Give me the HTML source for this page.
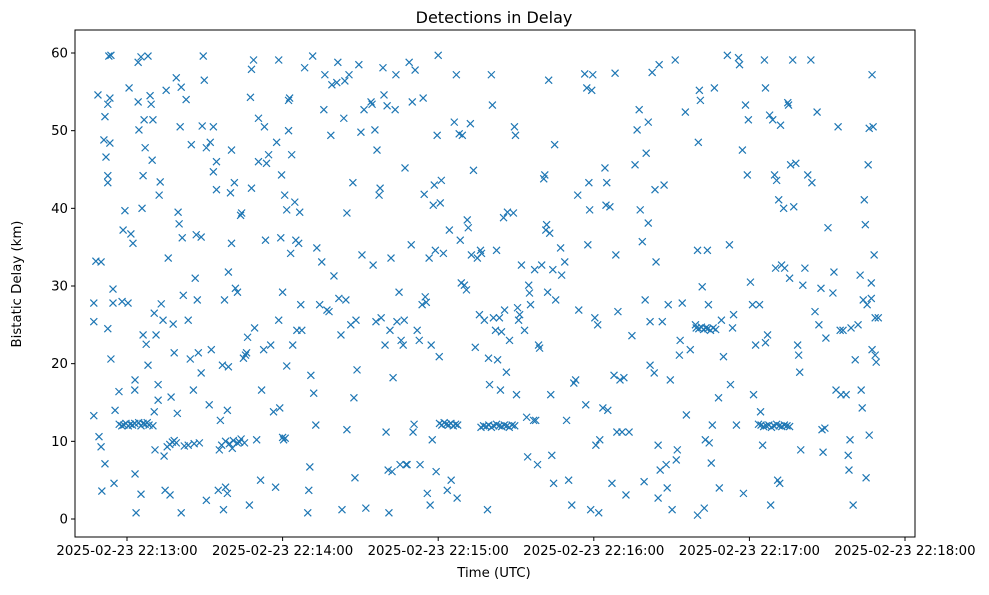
<!DOCTYPE html>
<html><head><meta charset="utf-8"><style>
body{margin:0;background:#fff;}
svg text{font-family:"DejaVu Sans","Liberation Sans",sans-serif;fill:#000;}
</style></head><body>
<svg id="chart" width="989" height="590" xmlns="http://www.w3.org/2000/svg">
<rect width="989" height="590" fill="#fff"/>
<text x="494" y="23" text-anchor="middle" font-size="16">Detections in Delay</text>
<text x="494" y="577" text-anchor="middle" font-size="13.3">Time (UTC)</text>
<text transform="translate(21,284) rotate(-90)" text-anchor="middle" font-size="13.3">Bistatic Delay (km)</text>
<g id="marks"></g>
<g id="axes"></g>
</svg>
<script>
// seconds relative to 22:13:00 UTC, delay in km
const xTickSeconds = [0, 60, 120, 180, 240, 300];
const xTickLabels = ["2025-02-23 22:13:00","2025-02-23 22:14:00","2025-02-23 22:15:00","2025-02-23 22:16:00","2025-02-23 22:17:00","2025-02-23 22:18:00"];
const yTicks = [0, 10, 20, 30, 40, 50, 60];
const detections = [
[-12.8,27.8],[-12.8,25.4],[-12.8,13.3],[-12,33.2],[-11.2,54.6],[-10,33.1],[-10.8,10.6],[-10,9.3],[-9.7,3.6],[-8.5,7.1],[-8.9,48.8],[-8.5,51.8],[-8.1,46.6],[-7.4,43.3],[-7.4,53.4],[-7.4,44.2],[-7,59.6],[-6.2,59.7],[-6.6,54.2],[-6.6,48.4],[-7.4,24.5],[-6.2,20.6],[-5.4,29.6],[-5.4,27.8],[-5,4.6],[-4.6,14],[-3.1,16.4],[-1.9,28],[-1.5,37.2],[-0.8,39.7],[0.4,27.8],[0.8,55.5],
[-3,12.2],[-2,12.0],[-1.2,12.1],[-0.4,12.3],[0.5,12.0],[1.3,12.2],[2.1,12.1],[3,12.3],[4.5,12.4],[5.4,12.0],[6.2,12.3],[7,12.2],[7.8,12.4],[8.5,12.1],
[1.5,36.7],[2.3,35.5],[3.1,17.9],[3,16.6],[3.5,0.8],[3.1,5.8],[4.3,58.8],[4.6,50.1],[4.3,53.7],[5.4,3.2],[5.4,59.5],[5.8,40],[6.2,44.2],[6.2,23.7],[6.6,51.4],[7,47.8],[7.4,22.5],[8.1,59.6],[8.1,19.8],[8.9,54.5],[9.3,53.4],[9.7,46.2],[10,51.4],[10.5,26.5],[10.8,8.9],[11.2,23.7],[12,17.3],[12.4,41.7],[12.8,43.4],[13.2,27.7],[13.9,25.6],[14.3,8.1],[14.7,3.7],[15.1,55.2],[15.9,33.6],[10.5,13.8],[10,12],[12,15.3],
[15.5,9.3],[16.5,9.6],[17.5,9.9],[18.2,10.1],[19,9.8],
[16.6,3.1],[17,15.7],[17.8,25.1],[18.2,21.4],[19,56.8],[19.4,13.6],[19.7,39.5],[20.1,38],[20.5,50.5],[20.9,55.6],[21.3,36.2],[21.7,28.8],[22.1,9.4],[20.9,0.8],[22.8,54],[23.6,9.5],[23.6,25.6],[24.4,20.6],[24.8,48.2],[25.6,16.6],[25.9,9.7],[26.3,31],[26.7,36.6],[27.1,28.2],[27.5,21.4],[27.9,9.8],[28.6,18.8],[28.6,36.3],[29,50.6],[29.4,59.6],[29.8,56.5],[30.6,47.8],[30.6,2.4],
[31.7,14.7],[32.1,48.5],[32.5,21.8],[33.3,50.5],[33.3,44.7],[34.5,46],[34.5,42.4],[35.2,3.7],[35.6,8.9],[36,12.7],[36.8,19.8],[37.2,1.2],[37.6,28.2],[38,4.1],[38.7,3.3],[38.7,14],[39.1,31.8],[39.1,19.6],[39.9,42],[40.3,47.5],[40.3,35.5],[40.6,9.1],[41.4,43.3],[41.8,29.7],[42.6,29.2],[43.4,9.9],[43.8,39.1],[44.2,39.4],[44.9,20.7],[45.3,9.8],[45.7,21.1],[46.1,21.4],[46.5,23.4],
[36.5,9.5],[38,10],[39.5,9.7],[41,10.1],[42.5,9.8],[44,10.3],[60,10.5],[61,10.4],
[47.2,1.8],[47.6,54.3],[48,57.9],[48,42.6],[48.8,59.1],[49.2,24.6],[50,10.2],[50.7,51.6],[50.7,46],[51.5,5],[51.9,16.6],[52.7,21.8],[53,50.5],[53.4,35.9],[53.8,45.8],[54.6,46.9],[55.4,22.4],[56.5,13.8],[57.3,4.1],[57.7,48.5],[58.5,59.1],[58.5,25.6],[58.9,14.3],[59.3,36.2],[59.6,44.3],[60,29.2],[60.4,10.2],[60.8,41.7],[61.6,39.8],[61.6,19.7],[62.3,53.9],
[62.3,50],[62.7,54.2],[63.1,34.2],[63.5,46.9],[63.9,22.4],[64.7,40.8],[65.1,35.9],[65.5,24.3],[66.2,35.5],[66.6,39.5],[67,27.6],[67.4,24.3],[68.5,58.1],[69.7,0.8],[70.1,3.7],[70.5,6.7],[70.9,18.5],[71.6,59.6],[72,16.2],[72.8,12.1],[73.2,34.9],[74.3,27.6],[75.1,33.1],[75.9,52.7],[76.3,57.2],[77.1,26.9],[77.9,26.7],
[78.6,49.4],[79,55.9],[79.8,31.3],[80.9,56.2],[81.3,58.8],[81.7,28.4],[82.5,23.7],[82.9,1.2],[83.6,51.6],[84,56.4],[84.4,28.2],[84.8,39.4],[84.8,11.5],[85.6,57.2],[86.3,25],[87.1,43.3],[87.5,15.6],[87.9,5.3],[88.3,25.6],[88.7,19.2],[89.4,58.5],[90.2,49.8],[90.6,34],[91.4,52.7],[92.1,1.4],
[94.1,53.7],[94.5,53.4],[94.9,32.7],[95.6,50.1],[96,25.4],[96.4,47.5],[97.2,41.7],[97.6,42.6],[98,25.9],[98.7,58.1],[99.1,54.6],[99.5,22.4],[99.9,11.2],[100.3,53.2],[100.7,6.3],[101,0.8],[101.4,24.3],[101.8,33.6],[102.2,6.1],[102.6,18.2],[103.4,52.7],[103.7,57.2],[104.1,25.4],[104.9,29.2],[105.3,7],[105.7,23],[106.5,22.4],[106.9,25.6],[107.2,45.2],[107.6,7],[108,7],
[108.8,58.8],[109.6,35.3],[110,53.7],[110.3,11.2],[110.7,12.2],[111.1,57.8],[111.9,24.3],[112.7,23],[113,7],[113.8,27.6],[114.2,54.2],[114.6,41.8],[115,28.6],[115.4,27.9],[115.8,3.3],[116.5,33.6],[116.9,1.8],[117.3,22.4],[117.7,10.2],[118.1,40.4],[118.5,43],[118.9,34.6],[119.2,6.1],[119.6,49.4],[120,59.7],[120.4,20.9],[120.8,40.7],[121.2,43.6],[122,34.2],[123.5,3.7],[124.3,37.2],[125,5],[126.2,51.1],[127,57.2],[127.3,2.7],
[120.5,12.3],[121.4,12.1],[122.3,12.4],[123.1,12.2],[124,12.1],[124.9,12.3],[125.8,12],[126.7,12.2],[127.5,12.1],
[128.1,49.6],[128.5,35.9],[128.9,30.4],[129.3,49.4],[130.1,30.1],[130.9,29.5],[131.2,38.5],[131.6,37.5],[132.4,50.9],[132.8,34],[133.6,44.9],[134.3,22.1],[135.1,33.6],[135.9,26.3],[136.3,34.6],[136.7,34.2],[137.8,25.6],[139,1.2],[139.4,20.7],[139.8,17.3],[140.5,57.2],[140.9,53.3],[141.3,25.9],[142.1,24.3],[142.5,34.6],[142.9,20.5],
[136.5,11.8],[137.5,12.0],[138.5,11.9],[139.5,12.1],[140.5,11.8],[141.4,12],[142.5,12.2],[143.5,12],[144.5,11.9],[145.5,12.1],[146.5,12],[147.4,11.8],[148.5,12.1],[149.5,12],
[143.6,25.9],[144,16.6],[144.4,24.1],[145.2,38.8],[145.6,26.9],[146.3,18.9],[146.7,39.5],[147.5,23],[149,39.4],[149.4,50.5],[149.8,49.4],[150.2,16],[150.6,27.2],[151,25.6],[151.4,26.3],[152.1,32.7],[153.3,24.3],[154.1,13.1],[154.5,8],[154.9,30.1],[155.2,29.1],[155.6,27.6],[156.8,12.7],[157.2,32.1],[157.6,12.7],[158.3,7],[158.7,22.4],
[159.1,22],[159.9,32.7],[160.7,43.8],[161.1,44.3],[161.5,37.2],[161.8,37.9],[162.2,29.2],[162.6,56.5],[163,36.8],[163.4,16],[163.8,8.2],[164.2,32.1],[164.5,4.6],[164.9,48.2],[165.3,28.2],[167.2,34.9],[167.6,31.4],[168.8,33.1],[169.5,12.7],[170.3,5],[171.5,1.8],[172.3,17.5],[173,17.9],[173.8,41.7],[174.2,26.9],
[176.5,57.3],[176.9,14.7],[177.3,55.5],[177.7,35.3],[178.1,43.3],[178.4,39.8],[178.8,1.2],[179.2,55.2],[179.6,57.2],[180.4,25.9],[180.8,9.5],[181.5,25],[181.9,0.8],[182.3,10.2],[183.5,14.3],[184.3,45.2],[184.7,40.4],[185,43.3],[185.4,14],[186.2,40.2],[187,4.6],[187.8,18.5],[188.2,57.4],[188.5,34],[188.9,11.2],[189.3,26.7],[190.1,17.9],
[190.9,11.2],[191.6,18.2],[192.4,3.1],[193.6,11.2],[194.7,23.6],[195.9,45.6],[196.7,50.1],[197.5,52.7],[197.9,39.8],[198.7,35.7],[199.4,4.8],[199.8,28.2],[200.2,47.1],[201,38.1],[201,51.1],[201.7,25.4],[201.7,19.8],[202.5,57.5],[203.3,18.8],[203.6,42.4],[204,33.1],[204.8,9.5],[204.8,2.7],[205.2,58.5],[205.6,6.3],
[206.4,25.4],[207.1,43],[207.9,7],[208.3,4],[208.7,27.6],[209.5,17.9],[210.2,1.2],[211.4,59.1],[211.8,7.6],[212.2,8.9],[213,21.1],[213.3,23],[214.1,27.8],[215.3,52.4],[215.7,13.4],[217.2,21.8],[219.2,25],[220,34.6],[220.3,48.5],[220.7,55.2],[220,0.5],
[219.5,24.6],[220.5,24.5],[221.5,24.7],[222.3,24.4],[223.2,24.6],[224,24.5],[225,24.3],[226,24.6],[227,24.4],
[221.1,53.9],[221.8,29.9],[222.6,1.4],[223,10.2],[223.8,34.6],[224.2,27.6],[224.5,9.8],[225.3,7.2],[225.7,12.1],[226.5,55.5],[228.1,15.6],[228.4,4],[229.2,25.6],[230,20.9],[231.5,59.7],[232.3,35.3],[232.7,17.3],[233.5,24.6],[233.9,26.3],[235,12.1],[235.8,59.4],[236.2,58.5],
[237.3,47.5],[237.7,3.3],[238.5,53.3],[239.2,44.3],[239.6,51.4],[240.4,30.5],[241.2,27.6],[241.6,16],[242.4,22.4],[243.9,27.6],[244.3,13.8],[245.1,9.5],[245.8,59.1],[246.2,55.5],[246.2,22.7],[247,23.7],[247.8,52],[248.2,1.8],[249,51.4],[249.7,44.3],[250.1,32.3],[250.5,43.6],[250.9,5],[251.3,41.1],[251.7,4.6],[252,50.7],[252.4,32.7],
[243.5,12.2],[244.5,12.1],[245.5,11.9],[246.5,12],[247.5,12.1],[248.5,11.8],[249.5,12],[250.5,12.2],[251.5,12.0],[252.5,11.9],[253.5,12.1],[254.5,12.0],[255.5,11.9],
[253.2,40],[253.6,32.3],[254.8,53.6],[255.1,53.3],[255.5,31],[255.9,45.6],[256.7,59.1],[257.1,40.2],[257.9,45.8],[258.6,22.4],[259,21.1],[259.4,18.9],[259.8,8.9],[260.6,30.1],[261.4,32.3],[262.5,44.3],[263.7,59.1],[264.1,43.3],[265.3,26.7],[266.1,52.4],[266.8,25],[267.6,29.7],[268,11.5],
[268.4,8.6],[269.1,11.7],[269.5,23.3],[270.3,37.5],[272.2,29.1],[272.6,31.8],[273.4,16.6],[274.2,50.5],[275,24.3],[275.3,16],[276.1,24.3],[277.3,16],[278.1,8.2],[278.4,6.3],[278.8,10.2],[279.2,24.6],[280,1.8],[280.8,20.5],[281.9,25],[282.7,31.4],[283.1,16.6],[283.5,14.3],[283.9,28.2],[284.3,41.1],[284.7,37.9],[285,5.3],[285.4,27.6],[285.8,45.6],[286.2,10.8],[286.2,50.3],[287,28.4],[287.3,57.2],[287.3,21.8],[287.7,50.5],[288.1,34],[288.5,21.1],[289.7,25.9],[288.5,25.9],[288.9,20.2],[287,30.4]
];

const NS = "http://www.w3.org/2000/svg";
const L = 75, R = 915, T = 30, B = 537;
function xScale(s){ return 127 + s * (155.6/60); }
function yScale(d){ return 519 - d * (466/60); }
function mk(tag, attrs, parent){ const e = document.createElementNS(NS, tag); for (const k in attrs) e.setAttribute(k, attrs[k]); parent.appendChild(e); return e; }

const marks = document.getElementById('marks');
detections.forEach(function(p){
  const cx = xScale(p[0]), cy = yScale(p[1]), h = 3.5;
  const g = mk('path', {d:`M${cx-h},${cy-h}L${cx+h},${cy+h}M${cx-h},${cy+h}L${cx+h},${cy-h}`, stroke:'#1f77b4', 'stroke-width':1.2, fill:'none'}, marks);
  
  
});

const axes = document.getElementById('axes');
const frame = mk('rect', {x:L, y:T, width:R-L, height:B-T, fill:'none', stroke:'#000', 'stroke-width':1}, axes);


yTicks.forEach(function(v){
  const y = yScale(v);
  mk('line', {x1:L-4, x2:L, y1:y, y2:y, stroke:'#000'}, axes);
  const t = mk('text', {x:L-7, y:y+4.5, 'text-anchor':'end', 'font-size':13.3}, axes);
  t.textContent = v;
  
  
});
xTickSeconds.forEach(function(s, i){
  const x = xScale(s);
  mk('line', {x1:x, x2:x, y1:B, y2:B+4, stroke:'#000'}, axes);
  const t = mk('text', {x:x, y:B+18, 'text-anchor':'middle', 'font-size':13.3}, axes);
  t.textContent = xTickLabels[i];
  
  
});
</script>
</body></html>
